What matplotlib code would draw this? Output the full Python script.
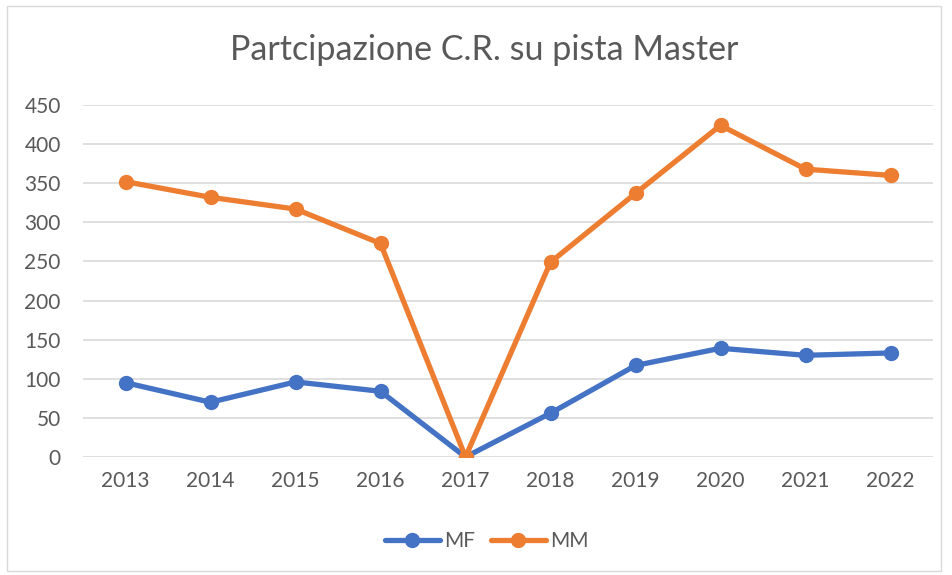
import matplotlib.pyplot as plt
from matplotlib.patches import Rectangle

years = ["2013", "2014", "2015", "2016", "2017", "2018", "2019", "2020", "2021", "2022"]
mf = [95, 70, 96, 84, 0, 56, 117, 139, 130, 133]
mm = [352, 332, 317, 273, 0, 249, 337, 424, 368, 360]

plt.rcParams['font.family'] = ['Lato', 'DejaVu Sans']
txt = '#595959'

fig = plt.figure(figsize=(9.52, 5.75), dpi=100)
ax = fig.add_axes([83/952, 1 - 457/575, 850/952, 352/575])

x = range(len(years))
ax.plot(x, mf, color='#4472C4', lw=3.8, marker='o', ms=10, label='MF', solid_capstyle='round')
ax.plot(x, mm, color='#ED7D31', lw=3.8, marker='o', ms=10, label='MM', solid_capstyle='round')

ax.set_xlim(-0.5, len(years) - 0.5)
ax.set_ylim(0, 450)
ax.set_yticks(range(0, 451, 50))
ax.set_xticks(list(x))
ax.set_xticklabels(years)
ax.grid(axis='y', color='#D9D9D9', lw=1.2)
ax.set_axisbelow(True)
for s in ax.spines.values():
    s.set_visible(False)
ax.tick_params(length=0, labelsize=15, colors=txt, pad=10)
ax.tick_params(axis='y', pad=16)

fig.text(0.509, 1 - 50/575, 'Partcipazione C.R. su pista Master', ha='center', va='center',
         fontsize=24.5, color=txt)

ax.legend(loc='center', bbox_to_anchor=(0.475, -0.24), ncol=2, frameon=False,
          fontsize=15, labelcolor=txt, handlelength=2.6, columnspacing=0.8, handletextpad=0.2)

fig.patches.append(Rectangle((7/952, 4/575), 934/952, 565/575, transform=fig.transFigure,
                             fill=False, edgecolor='#D9D9D9', lw=1))

plt.savefig("out.png", dpi=100)
